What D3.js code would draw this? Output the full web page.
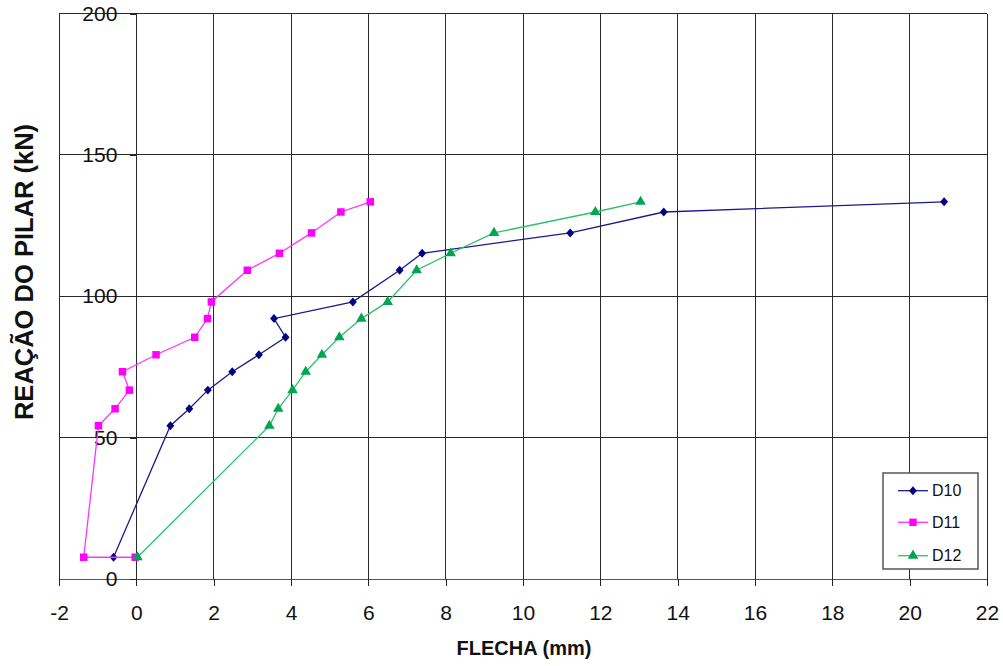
<!DOCTYPE html>
<html>
<head>
<meta charset="utf-8">
<script src="https://cdn.jsdelivr.net/npm/d3@7"></script>
<style>
  html, body { margin: 0; padding: 0; background: #fff; }
  svg { display: block; font-family: "Liberation Sans", Arial, sans-serif; }
</style>
</head>
<body>
<svg id="chart" width="1003" height="666"></svg>
<script>
// ---- Data ----
const loads = [7.7, 54.2, 60.2, 66.8, 73.3, 79.3, 85.5, 92.1, 98.0, 109.2, 115.2, 122.4, 129.8, 133.4];
const d10X = [-0.59, 0.88, 1.37, 1.85, 2.48, 3.17, 3.86, 3.56, 5.60, 6.81, 7.39, 11.22, 13.64, 20.89];
const d10Y = loads;
const d11X = [-0.03, -1.36, -0.98, -0.55, -0.18, -0.36, 0.51, 1.51, 1.84, 1.94, 2.87, 3.70, 4.53, 5.29, 6.05];
const d11Y = [7.7].concat(loads);
const d12X = [0.03, 3.44, 3.67, 4.04, 4.38, 4.80, 5.25, 5.82, 6.50, 7.25, 8.13, 9.25, 11.87, 13.04];
const d12Y = loads;
const seriesNames = ["D10", "D11", "D12"];
const xTicks = [-2, 0, 2, 4, 6, 8, 10, 12, 14, 16, 18, 20, 22];
const yTicks = [0, 50, 100, 150, 200];
const xTitle = "FLECHA (mm)";
const yTitle = "REAÇÃO DO PILAR (kN)";

// ---- Setup ----
const svg = d3.select("#chart");
const plotLeft = 59, plotRight = 987, plotTop = 13.5, plotBottom = 579;
const x = d3.scaleLinear().domain([-2, 22]).range([plotLeft, plotRight]);
const y = d3.scaleLinear().domain([0, 200]).range([plotBottom, plotTop]);

// Excel-like diamond (slightly taller than wide)
const excelDiamond = {
  draw(ctx, size) {
    const w = Math.sqrt(size) * 0.72, h = Math.sqrt(size) * 0.82;
    ctx.moveTo(0, -h); ctx.lineTo(w, 0); ctx.lineTo(0, h); ctx.lineTo(-w, 0); ctx.closePath();
  }
};

const series = [
  { name: seriesNames[0], xs: d10X, ys: d10Y, color: "#000080", line: "#1a1a8c", shape: excelDiamond, size: 30 },
  { name: seriesNames[1], xs: d11X, ys: d11Y, color: "#ff00ff", line: "#ff33ff", shape: d3.symbolSquare, size: 56 },
  { name: seriesNames[2], xs: d12X, ys: d12Y, color: "#00a550", line: "#2fbf6a", shape: d3.symbolTriangle, size: 48 }
];

// gridlines
const grid = svg.append("g").attr("shape-rendering", "crispEdges");
grid.selectAll("line.v").data(xTicks).enter().append("line")
  .attr("x1", d => x(d)).attr("x2", d => x(d))
  .attr("y1", y(200)).attr("y2", y(0))
  .attr("stroke", "#2a2a2a").attr("stroke-width", 1);
grid.selectAll("line.h").data(yTicks.filter(d => d > 0)).enter().append("line")
  .attr("x1", x(-2)).attr("x2", x(22))
  .attr("y1", d => y(d)).attr("y2", d => y(d))
  .attr("stroke", "#2a2a2a").attr("stroke-width", 1);

// x axis
const xAxis = svg.append("g")
  .attr("transform", `translate(0,${y(0)})`)
  .call(d3.axisBottom(x).tickValues(xTicks).tickSize(7).tickPadding(19).tickFormat(d => String(d)));
xAxis.select(".domain").attr("stroke", "#555").attr("shape-rendering", "crispEdges");
xAxis.selectAll(".tick line").attr("stroke", "#222").attr("shape-rendering", "crispEdges");
xAxis.selectAll(".tick text").attr("font-size", 21).attr("fill", "#111")
  .attr("font-family", "'Liberation Sans', Arial, sans-serif");

// y axis at x = 0
const yAxis = svg.append("g")
  .attr("transform", `translate(${x(0)},0)`)
  .call(d3.axisLeft(y).tickValues(yTicks).tickSize(6).tickPadding(13).tickFormat(d => String(d)));
yAxis.select(".domain").remove();
yAxis.selectAll(".tick line").attr("stroke", "#222").attr("shape-rendering", "crispEdges");
yAxis.selectAll(".tick text").attr("font-size", 21).attr("fill", "#111")
  .attr("font-family", "'Liberation Sans', Arial, sans-serif");

// series
const lineGen = d3.line().x(d => x(d[0])).y(d => y(d[1]));
series.forEach(s => {
  const pts = s.xs.map((v, i) => [v, s.ys[i]]);
  const g = svg.append("g");
  g.append("path").datum(pts).attr("d", lineGen)
    .attr("fill", "none").attr("stroke", s.line).attr("stroke-width", 1.3);
  g.selectAll("path.m").data(pts).enter().append("path")
    .attr("transform", d => `translate(${x(d[0])},${y(d[1])})`)
    .attr("d", d3.symbol().type(s.shape).size(s.size))
    .attr("fill", s.color);
});

// legend
const lg = svg.append("g");
lg.append("rect").attr("x", 883).attr("y", 473).attr("width", 95).attr("height", 96)
  .attr("fill", "#fff").attr("stroke", "#555").attr("stroke-width", 1.5);
const legendY = [490.7, 522.3, 555.7];
series.forEach((s, i) => {
  const ly = legendY[i];
  lg.append("line").attr("x1", 898).attr("x2", 928).attr("y1", ly).attr("y2", ly)
    .attr("stroke", s.line).attr("stroke-width", 1.3);
  lg.append("path").attr("transform", `translate(913,${ly})`)
    .attr("d", d3.symbol().type(s.shape).size(s.size)).attr("fill", s.color);
  lg.append("text").attr("x", 932).attr("y", ly).attr("dy", "0.36em")
    .attr("font-size", 16).attr("fill", "#111").text(s.name);
});

// titles
svg.append("text").attr("x", 524).attr("y", 655).attr("text-anchor", "middle")
  .attr("font-size", 20).attr("font-weight", "bold").attr("fill", "#111").text(xTitle);
svg.append("text").attr("transform", "translate(33,272) rotate(-90)").attr("text-anchor", "middle")
  .attr("font-size", 25.5).attr("font-weight", "bold").attr("fill", "#111").text(yTitle);
</script>
</body>
</html>
